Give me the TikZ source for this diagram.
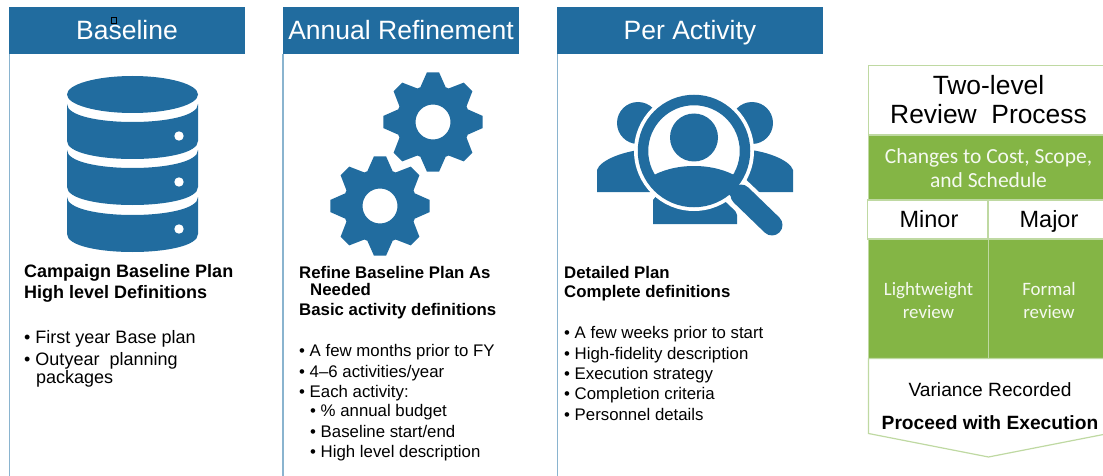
\documentclass[tikz,border=0pt]{standalone}
\usepackage{fontspec}
\setmainfont{Liberation Sans}
\newfontfamily\carl{Carlito}
\usetikzlibrary{calc}
\definecolor{bluefill}{HTML}{216C9F}
\definecolor{blueline}{HTML}{8AB4CF}
\definecolor{greenfill}{HTML}{84B545}
\definecolor{greenline}{HTML}{BFD9A2}
\tikzset{
  header/.style={text=white,inner sep=0pt,anchor=base,font=\fontsize{26.5}{30}\selectfont},
  sideline/.style={draw=blueline,line width=1.3pt},
  icon/.style={fill=bluefill,draw=none},
  boldline/.style={anchor=base west,inner sep=0pt,font=\fontsize{16.8}{20}\selectfont\bfseries},
  txt/.style={anchor=base west,inner sep=0pt,font=\fontsize{16.8}{20}\selectfont},
  boldlarge/.style={boldline,font=\fontsize{18}{20}\selectfont\bfseries},
  txtlarge/.style={txt,font=\fontsize{18}{20}\selectfont},
  whitebox/.style={fill=white,draw=greenline,line width=1.2pt},
  greenbox/.style={fill=greenfill,draw=greenline,line width=.6pt},
  greentxt/.style={text=white!92!greenfill,inner sep=0pt,align=center,font=\carl\fontsize{21.5}{24}\selectfont},
  smallgreen/.style={greentxt,font=\carl\fontsize{18.9}{23}\selectfont},
  blacktxt/.style={text=black,inner sep=0pt,align=center},
}
\newcommand{\gearshape}[2]{%
  \fill[icon,even odd rule] ($(#1,#2)+({cos(-20)*37},{sin(-20)*37})$)
    \foreach \k in {0,45,...,315}{
      -- ($(#1,#2)+({cos(\k-20)*37},{sin(\k-20)*37})$)
      -- ($(#1,#2)+({cos(\k-7)*50},{sin(\k-7)*50})$)
      -- ($(#1,#2)+({cos(\k+7)*50},{sin(\k+7)*50})$)
      -- ($(#1,#2)+({cos(\k+20)*37},{sin(\k+20)*37})$)
    } -- cycle
    (#1,#2) circle[radius=17.5];}
\begin{document}
\begin{tikzpicture}[x=1pt,y=-1pt]
\useasboundingbox (0,0) rectangle (1103,476);
% side lines
\draw[sideline] (9.5,54) -- (9.5,476);
\draw[sideline] (283,54) -- (283,476);
\draw[sideline] (557.5,54) -- (557.5,476);
% headers
\fill[bluefill] (9,7) rectangle (245,54);
\node[header] (h1) at (127,39.5) {Baseline};
\fill[bluefill] (283,7) rectangle (519,54);
\node[header] (h2) at (401,39.5) {Annual Refinement};
\fill[bluefill] (557,7) rectangle (823,54);
\node[header] (h3) at (690,39.5) {Per Activity};
\draw[black,line width=.8pt] (111.5,17.5) rectangle (116,23);
% database
\fill[icon] (132.5,94.5) ellipse[x radius=65.5,y radius=18.5];
\foreach \t/\b in {104/141,150/187,197/234}{
  \fill[icon] (67,\t) .. controls (67,{\t+24}) and (198,{\t+24}) .. (198,\t)
     -- (198,\b) .. controls (198,{\b+24}) and (67,{\b+24}) .. (67,\b) -- cycle;
}
\foreach \y in {136,182,229}{\fill[white] (179,\y) circle[radius=4.7];}
% gears
\gearshape{433}{122}
\gearshape{380}{206}
% people and magnifier
\fill[icon] (638,123) circle[radius=21];
\fill[icon] (752,123) circle[radius=21];
\fill[icon] (597,192) -- (597,170) .. controls (600,160) and (625,150) .. (650,149) -- (650,192) -- cycle;
\fill[icon] (793,192) -- (793,170) .. controls (790,160) and (765,150) .. (740,149) -- (740,192) -- cycle;
\fill[icon] (653,224) -- (653,200) -- (665,185) -- (725,185) -- (737,215) -- (737,224) -- cycle;
\fill[white] (694,151) circle[radius=60];
\draw[white,line width=30pt,line cap=round] (733,188) -- (773,226);
\begin{scope}
  \clip (694,151) circle[radius=47];
  \fill[icon] (694,204) ellipse[x radius=62,y radius=38];
\end{scope}
\fill[icon] (694,137.5) circle[radius=24];
\draw[bluefill,line width=10.5pt] (694,151) circle[radius=51];
\draw[bluefill,line width=21pt,line cap=round] (741,195) -- (772,225);
\draw[bluefill,line width=12pt] (730,187) -- (745,202);
% panel 1 text
\node[boldlarge] (a1) at (24,277) {Campaign Baseline Plan};
\node[boldlarge] (a2) at (24,298) {High level Definitions};
\node[txtlarge] (a3) at (24,343) {• First year Base plan};
\node[txtlarge] (a4) at (24,365) {• Outyear\ \ planning};
\node[txtlarge] (a5) at (36,383) {packages};
% panel 2 text
\node[boldline] (b1) at (299,278) {Refine Baseline Plan As};
\node[boldline] (b2) at (310,295) {Needed};
\node[boldline] (b3) at (299,315) {Basic activity definitions};
\node[txt] (b4) at (299,356) {• A few months prior to FY};
\node[txt] (b5) at (299,377) {• 4–6 activities/year};
\node[txt] (b6) at (299,397) {• Each activity:};
\node[txt] (b7) at (310,416) {• \% annual budget};
\node[txt] (b8) at (310,437) {• Baseline start/end};
\node[txt] (b9) at (310,457) {• High level description};
% panel 3 text
\node[boldline] (c1) at (564,278) {Detailed Plan};
\node[boldline] (c2) at (564,297) {Complete definitions};
\node[txt] (c3) at (564,338) {• A few weeks prior to start};
\node[txt] (c4) at (564,359) {• High-fidelity description};
\node[txt] (c5) at (564,379) {• Execution strategy};
\node[txt] (c6) at (564,399) {• Completion criteria};
\node[txt] (c7) at (564,420) {• Personnel details};
% review column
\draw[whitebox] (868.5,65.5) rectangle (1110,135);
\node[blacktxt,font=\fontsize{26.4}{29.5}\selectfont] (r1) at (988.5,99.5) {Two-level\\Review\ \ Process};
\draw[greenbox] (868.5,135) rectangle (1110,199);
\node[greentxt] (r2) at (988.5,168) {Changes to Cost, Scope,\\and Schedule};
\draw[whitebox] (867.5,200) rectangle (988,239);
\draw[whitebox] (988,200) rectangle (1110,239);
\node[blacktxt,anchor=base,font=\fontsize{23.5}{28}\selectfont] (r3) at (929,227.5) {Minor};
\node[blacktxt,anchor=base,font=\fontsize{23.5}{28}\selectfont] (r4) at (1049,227.5) {Major};
\draw[greenbox] (868.5,239) rectangle (988.5,358);
\draw[greenbox] (988.5,239) rectangle (1110,358);
\node[smallgreen] (r5) at (928.5,300.5) {Lightweight\\review};
\node[smallgreen] (r6) at (1049,300.5) {Formal\\review};
\draw[whitebox] (868.5,358.5) -- (868.5,433.5) -- (988.5,457) -- (1108.5,433.5) -- (1108.5,358.5) -- cycle;
\node[blacktxt,font=\fontsize{19.2}{22}\selectfont] (r7) at (990,389.5) {Variance Recorded};
\node[blacktxt,font=\fontsize{19.2}{22}\selectfont\bfseries] (r8) at (990,422.5) {Proceed with Execution};
\end{tikzpicture}
\end{document}
